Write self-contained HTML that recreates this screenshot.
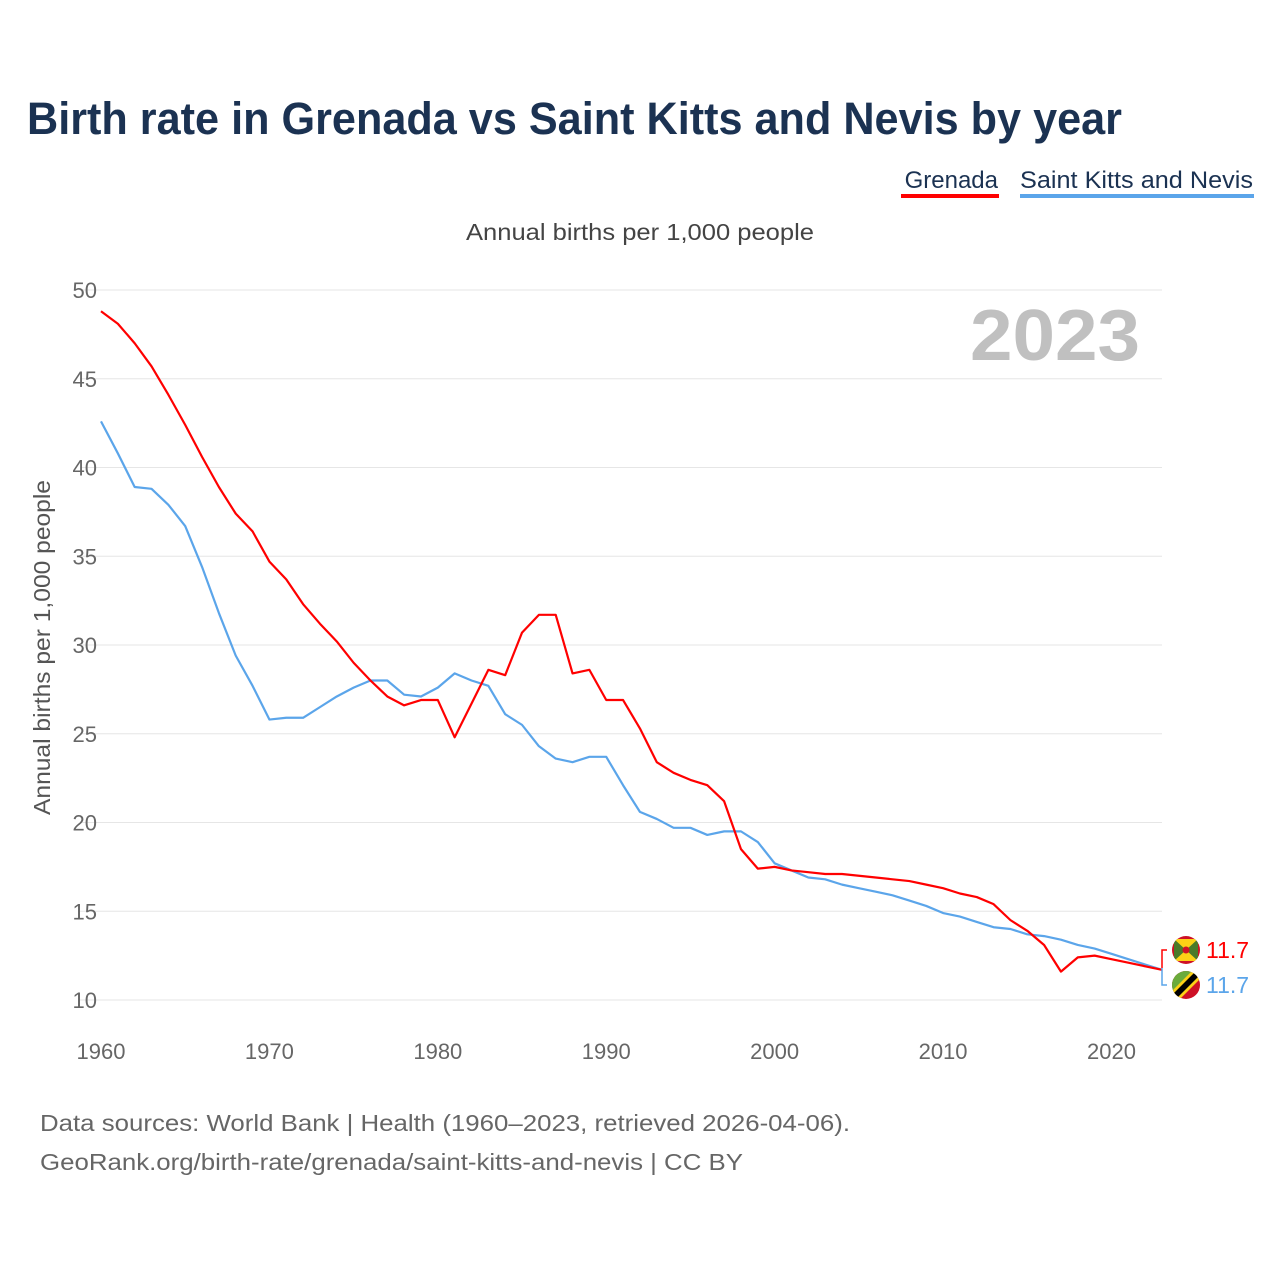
<!DOCTYPE html>
<html><head><meta charset="utf-8"><style>
body{margin:0;background:#fff;font-family:"Liberation Sans",sans-serif;}
</style></head><body>
<svg width="1280" height="1280" viewBox="0 0 1280 1280">
<text x="27" y="134" font-size="45" font-weight="bold" fill="#1b3252" textLength="1095" lengthAdjust="spacingAndGlyphs">Birth rate in Grenada vs Saint Kitts and Nevis by year</text>
<g>
<text x="998" y="188" font-size="24" fill="#1b3252" text-anchor="end">Grenada</text>
<rect x="901" y="194" width="98" height="4" fill="#ff0000"/>
<text x="1020" y="188" font-size="24" fill="#1b3252" textLength="233" lengthAdjust="spacingAndGlyphs">Saint Kitts and Nevis</text>
<rect x="1020" y="194" width="234" height="4" fill="#5ba5ea"/>
</g>
<text x="466" y="240" font-size="23" fill="#444" textLength="348" lengthAdjust="spacingAndGlyphs">Annual births per 1,000 people</text>
<text x="1140" y="360" font-size="72" font-weight="bold" fill="#c0c0c0" text-anchor="end" textLength="170" lengthAdjust="spacingAndGlyphs">2023</text>
<text transform="translate(50,815) rotate(-90)" font-size="23" fill="#555" textLength="335" lengthAdjust="spacingAndGlyphs">Annual births per 1,000 people</text>
<g id="grid"></g><g id="xt"></g><g id="lines"></g>
<g>
<path d="M1167,950 H1162 V968" fill="none" stroke="#ff0000" stroke-width="1.5"/>
<path d="M1162,968 V985 H1167" fill="none" stroke="#5ba5ea" stroke-width="1.5"/>
<g>
<clipPath id="c1"><circle cx="1186" cy="950" r="14"/></clipPath>
<g clip-path="url(#c1)"><rect x="1170" y="934" width="32" height="32" fill="#ce1126"/>
<rect x="1174" y="939" width="24" height="22" fill="#4a7a2a"/>
<path d="M1174,939 L1186,950 L1198,939Z M1174,961 L1186,950 L1198,961Z" fill="#fcd116"/>
<circle cx="1186" cy="950" r="3.5" fill="#ce1126"/></g></g>
<g>
<clipPath id="c2"><circle cx="1186" cy="985" r="14"/></clipPath>
<g clip-path="url(#c2)"><rect x="1170" y="969" width="32" height="32" fill="#ce1126"/>
<path d="M1170,969 H1202 L1170,1001Z" fill="#6aab3b"/>
<path d="M1196,967 L1204,975 L1176,1003 L1168,995Z" fill="#fcd116"/>
<path d="M1197,970 L1201,974 L1175,1000 L1171,996Z" fill="#000"/></g></g>
<text x="1206" y="958" font-size="23" fill="#ff0000">11.7</text>
<text x="1206" y="993" font-size="23" fill="#5ba5ea">11.7</text>
</g>
<text x="40" y="1131" font-size="23" fill="#666" textLength="810" lengthAdjust="spacingAndGlyphs">Data sources: World Bank | Health (1960–2023, retrieved 2026-04-06).</text>
<text x="40" y="1170" font-size="23" fill="#666" textLength="703" lengthAdjust="spacingAndGlyphs">GeoRank.org/birth-rate/grenada/saint-kitts-and-nevis | CC BY</text>
</svg>
<script>
const years = Array.from({length:64},(_,i)=>1960+i);
const grenada = [48.8,48.1,47.0,45.7,44.1,42.4,40.6,38.9,37.4,36.4,34.7,33.7,32.3,31.2,30.2,29.0,28.0,27.1,26.6,26.9,26.9,24.8,26.7,28.6,28.3,30.7,31.7,31.7,28.4,28.6,26.9,26.9,25.3,23.4,22.8,22.4,22.1,21.2,18.5,17.4,17.5,17.3,17.2,17.1,17.1,17.0,16.9,16.8,16.7,16.5,16.3,16.0,15.8,15.4,14.5,13.9,13.1,11.6,12.4,12.5,12.3,12.1,11.9,11.7];
const skn = [42.6,40.8,38.9,38.8,37.9,36.7,34.4,31.8,29.4,27.7,25.8,25.9,25.9,26.5,27.1,27.6,28.0,28.0,27.2,27.1,27.6,28.4,28.0,27.7,26.1,25.5,24.3,23.6,23.4,23.7,23.7,22.1,20.6,20.2,19.7,19.7,19.3,19.5,19.5,18.9,17.7,17.3,16.9,16.8,16.5,16.3,16.1,15.9,15.6,15.3,14.9,14.7,14.4,14.1,14.0,13.7,13.6,13.4,13.1,12.9,12.6,12.3,12.0,11.7];
const yTicks = [10,15,20,25,30,35,40,45,50];
const xTicks = [1960,1970,1980,1990,2000,2010,2020];
const NS='http://www.w3.org/2000/svg';
const xS = y => 101 + (y-1960)*(1162-101)/63;
const yS = v => 1000 - (v-10)*710/40;
function mk(t,a,p){const e=document.createElementNS(NS,t);for(const k in a)e.setAttribute(k,a[k]);p.appendChild(e);return e;}
const grid=document.getElementById('grid');
yTicks.forEach(v=>{
  const l=mk('line',{x1:80,x2:1162,y1:yS(v),y2:yS(v),stroke:'#e6e6e6','stroke-width':1},grid);
  
  
  const t=mk('text',{x:97,y:yS(v)+8,'font-size':22,fill:'#666','text-anchor':'end'},grid);
  t.textContent=v;
  
  
});
const xt=document.getElementById('xt');
xTicks.forEach(y=>{
  const t=mk('text',{x:xS(y),y:1059,'font-size':22,fill:'#666','text-anchor':'middle'},xt);
  t.textContent=y;
  
  
});
const lines=document.getElementById('lines');
[[skn,'#5ba5ea','skn-line'],[grenada,'#ff0000','grenada-line']].forEach(([d,c,n])=>{
  const p=mk('polyline',{points:d.map((v,i)=>xS(years[i])+','+yS(v)).join(' '),fill:'none',stroke:c,'stroke-width':2.2,'stroke-linejoin':'round'},lines);
  
  
});
</script>
</body></html>
